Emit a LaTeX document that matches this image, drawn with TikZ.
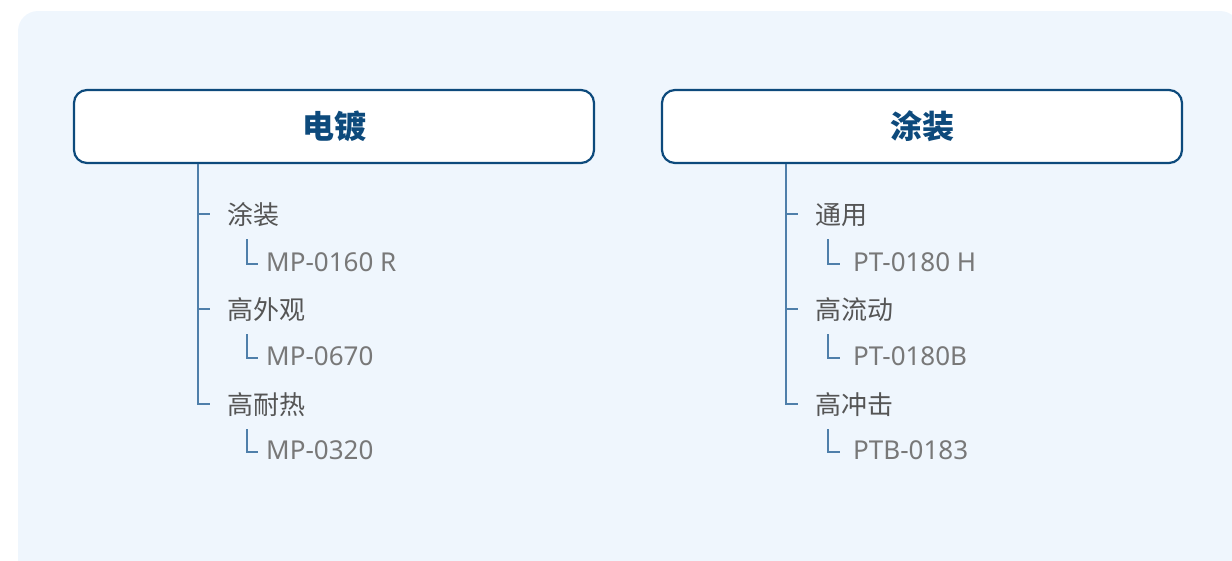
\documentclass[tikz,border=0pt]{standalone}
\usepackage{fontspec}
\setmainfont{Noto Sans}
\newfontfamily\cjk{Noto Sans CJK SC}
\usetikzlibrary{positioning}

\definecolor{panelbg}{HTML}{EFF6FD}
\definecolor{headblue}{HTML}{0D4A7C}
\definecolor{treeblue}{HTML}{4F7FAA}
\definecolor{catgray}{HTML}{555555}
\definecolor{codegray}{HTML}{787878}

\begin{document}
\begin{tikzpicture}[x=1pt, y=-1pt,
    head/.style={rectangle, draw=headblue, line width=2.2pt, rounded corners=13pt, fill=white, minimum width=520pt, minimum height=73pt, text=headblue, font=\cjk\bfseries\fontsize{32}{34}\selectfont},
    cat/.style={anchor=west, inner sep=0pt, text height=22pt, text depth=2pt, text=catgray, font=\cjk\fontsize{26}{28}\selectfont},
    code/.style={anchor=west, inner sep=0pt, text height=22pt, text depth=2pt, text=codegray, font=\fontsize{26}{28}\selectfont},
    branch/.style={draw=treeblue, line width=1.3pt, shorten >=17pt},
    leaf/.style={draw=treeblue, line width=1.3pt}
]
\useasboundingbox (0,0) rectangle (1232,560);

% Panel
\fill[panelbg, rounded corners=20pt] (18,11) rectangle (1240,585);

% Headers
\node[head] (h1) at (334,126.5) {电镀};
\node[head] (h2) at (922,126.5) {涂装};

% Left tree
\coordinate (s1) at (198,164);
\node[cat] (a1) at (227,214) {涂装};
\node[code] (b1) at (266,261) {MP-0160 R};
\node[cat] (a2) at (227,309) {高外观};
\node[code] (b2) at (266,355) {MP-0670};
\node[cat] (a3) at (227,404) {高耐热};
\node[code] (b3) at (266,449) {MP-0320};

% Right tree
\coordinate (s2) at (786,164);
\node[cat] (c1) at (815,214) {通用};
\node[code] (d1) at (853,261) {PT-0180 H};
\node[cat] (c2) at (815,309) {高流动};
\node[code] (d2) at (853,355) {PT-0180B};
\node[cat] (c3) at (815,404) {高冲击};
\node[code] (d3) at (853,449) {PTB-0183};

% Branches
\foreach \c in {a1,a2,a3} \draw[branch] (s1) |- (\c.west);
\foreach \c in {c1,c2,c3} \draw[branch] (s2) |- (\c.west);

% Leaves
\foreach \c/\d in {a1/b1,a2/b2,a3/b3}
    \draw[leaf] ([xshift=20pt,yshift=-13pt]\c.south west) |- ([xshift=-8pt,yshift=-3pt]\d.west);
\foreach \c/\d in {c1/d1,c2/d2,c3/d3}
    \draw[leaf] ([xshift=13pt,yshift=-13pt]\c.south west) |- ([xshift=-13pt,yshift=-3pt]\d.west);

\end{tikzpicture}
\end{document}
